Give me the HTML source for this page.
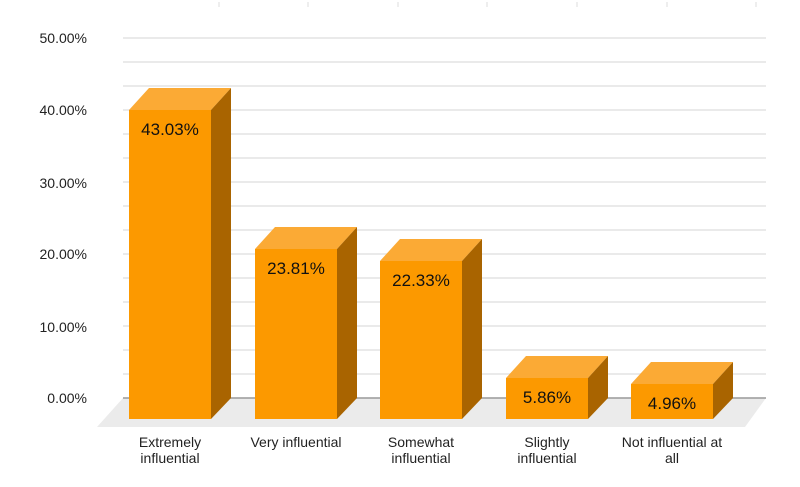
<!DOCTYPE html>
<html><head><meta charset="utf-8"><style>
html,body{margin:0;padding:0;background:#fff;}
svg{display:block;font-family:"Liberation Sans",sans-serif;}
</style></head><body>
<svg width="800" height="487" viewBox="0 0 800 487">
<g stroke="#ddd" stroke-width="1">
<line x1="219" y1="2" x2="219" y2="7"/><line x1="308" y1="2" x2="308" y2="7"/><line x1="398" y1="2" x2="398" y2="7"/><line x1="487" y1="2" x2="487" y2="7"/><line x1="577" y1="2" x2="577" y2="7"/><line x1="667" y1="2" x2="667" y2="7"/><line x1="756" y1="2" x2="756" y2="7"/>
</g>
<g stroke="#e4e4e4" stroke-width="1.5">
<line x1="123" y1="38" x2="766" y2="38"/><line x1="123" y1="62" x2="766" y2="62"/><line x1="123" y1="86" x2="766" y2="86"/>
<line x1="123" y1="110" x2="766" y2="110"/><line x1="123" y1="134" x2="766" y2="134"/><line x1="123" y1="158" x2="766" y2="158"/>
<line x1="123" y1="182" x2="766" y2="182"/><line x1="123" y1="206" x2="766" y2="206"/><line x1="123" y1="230" x2="766" y2="230"/>
<line x1="123" y1="254" x2="766" y2="254"/><line x1="123" y1="278" x2="766" y2="278"/><line x1="123" y1="302" x2="766" y2="302"/>
<line x1="123" y1="326" x2="766" y2="326"/><line x1="123" y1="350" x2="766" y2="350"/><line x1="123" y1="374" x2="766" y2="374"/>
</g>
<polygon points="123,398 766,398 745,427 97,427" fill="#ebebeb"/>
<line x1="123" y1="398" x2="766" y2="398" stroke="#999" stroke-width="1.5"/>
<g font-size="14" fill="#222" text-anchor="end">
<text x="87" y="43">50.00%</text><text x="87" y="115">40.00%</text><text x="87" y="188">30.00%</text>
<text x="87" y="259">20.00%</text><text x="87" y="332">10.00%</text><text x="87" y="403">0.00%</text>
</g>
<g>
<polygon points="129,110 149,88 231,88 211,110" fill="#fbaa35"/><polygon points="211,110 231,88 231,398 211,419" fill="#a96400"/><rect x="129" y="110" width="82" height="309" fill="#fc9900"/>
<polygon points="255,249 275,227 357,227 337,249" fill="#fbaa35"/><polygon points="337,249 357,227 357,398 337,419" fill="#a96400"/><rect x="255" y="249" width="82" height="170" fill="#fc9900"/>
<polygon points="380,261 400,239 482,239 462,261" fill="#fbaa35"/><polygon points="462,261 482,239 482,398 462,419" fill="#a96400"/><rect x="380" y="261" width="82" height="158" fill="#fc9900"/>
<polygon points="506,378 526,356 608,356 588,378" fill="#fbaa35"/><polygon points="588,378 608,356 608,398 588,419" fill="#a96400"/><rect x="506" y="378" width="82" height="41" fill="#fc9900"/>
<polygon points="631,384 651,362 733,362 713,384" fill="#fbaa35"/><polygon points="713,384 733,362 733,398 713,419" fill="#a96400"/><rect x="631" y="384" width="82" height="35" fill="#fc9900"/>
</g>
<g font-size="17" fill="#111" text-anchor="middle">
<text x="170" y="135">43.03%</text><text x="296" y="274">23.81%</text><text x="421" y="286">22.33%</text>
<text x="547" y="403">5.86%</text><text x="672" y="409">4.96%</text>
</g>
<g font-size="14" fill="#222" text-anchor="middle">
<text x="170" y="447">Extremely</text><text x="170" y="463">influential</text>
<text x="296" y="447">Very influential</text>
<text x="421" y="447">Somewhat</text><text x="421" y="463">influential</text>
<text x="547" y="447">Slightly</text><text x="547" y="463">influential</text>
<text x="672" y="447">Not influential at</text><text x="672" y="463">all</text>
</g>
</svg>
</body></html>
